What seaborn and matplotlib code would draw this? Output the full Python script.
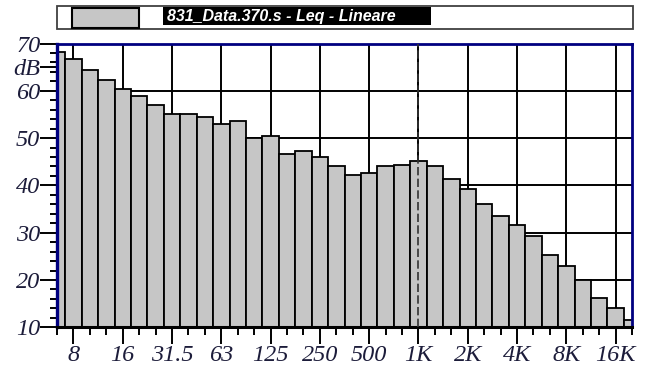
import pandas as pd
import seaborn as sns
import matplotlib.pyplot as plt
from matplotlib.patches import Rectangle

# 1/3 octave bands and measured Leq (dB, linear weighting)
bands = ["6.3", "8", "10", "12.5", "16", "20", "25", "31.5", "40", "50",
         "63", "80", "100", "125", "160", "200", "250", "315", "400", "500",
         "630", "800", "1K", "1.25K", "1.6K", "2K", "2.5K", "3.15K", "4K", "5K",
         "6.3K", "8K", "10K", "12.5K", "16K", "20K"]
leq = [68.3, 66.7, 64.5, 62.3, 60.4, 58.8, 57.1, 55.1, 55.1, 54.5,
       52.9, 53.6, 50.0, 50.4, 46.6, 47.3, 45.9, 44.0, 42.1, 42.6,
       44.1, 44.4, 45.2, 44.2, 41.3, 39.2, 36.1, 33.5, 31.6, 29.2,
       25.2, 23.0, 20.1, 16.3, 14.1, 11.5]
labelled = ["8", "16", "31.5", "63", "125", "250", "500", "1K", "2K", "4K", "8K", "16K"]
y_ticks = [10, 20, 30, 40, 50, 60, 70]
cursor_band = "1K"
title = "831_Data.370.s - Leq - Lineare"

df = pd.DataFrame({"band": bands, "leq": leq})

sns.set_style("white")
plt.rcParams["font.family"] = ["Liberation Serif", "DejaVu Serif"]

W, H = 648, 373
fig = plt.figure(figsize=(W / 100, H / 100), dpi=100)
ax = fig.add_axes([57 / W, 1 - 327.3 / H, (632 - 57) / W, (327.3 - 43.5) / H])

bar_grey = "#c6c6c6"
sns.barplot(data=df, x="band", y="leq", order=bands, color=bar_grey,
            saturation=1, width=1.0, edgecolor="black", linewidth=1.3,
            ax=ax, zorder=2)

# grid behind the bars
major_pos = [bands.index(b) for b in labelled]
for p in major_pos:
    ax.axvline(p, color="black", lw=1.4, zorder=0.5)
for v in y_ticks[1:-1]:
    ax.axhline(v, color="black", lw=1.4, zorder=0.5)

# cursor line at 1K
cx = bands.index(cursor_band)
ax.axvline(cx, color="#333333", lw=1.2, ls=(0, (5, 2)), zorder=3)

ax.set_xlim(0, len(bands) - 1)
ax.set_ylim(10, 70)
ax.set_xlabel("")
ax.set_ylabel("")

label_color = "#1c1c3a"
tick_font = dict(fontsize=17.5, style="italic", color=label_color)

ax.set_xticks(major_pos)
ax.set_xticklabels(labelled, **tick_font)
ax.set_xticks(range(len(bands)), minor=True)

yt = y_ticks + [65]
ax.set_yticks(yt)
ax.set_yticklabels([str(v) for v in y_ticks] + ["dB"], **tick_font)
ax.yaxis.get_major_ticks()[-1].tick1line.set_visible(False)
ax.set_yticks(range(10, 71, 2), minor=True)

ax.tick_params(axis="both", which="both", bottom=True, left=True,
               top=False, right=False)
ax.tick_params(axis="both", which="major", direction="out", length=12,
               width=1.4, color="black", pad=0)
ax.tick_params(axis="x", which="minor", direction="out", length=6,
               width=1.4, color="black")
ax.tick_params(axis="y", which="minor", direction="out", length=5,
               width=1.4, color="black")
ax.tick_params(axis="x", which="major", pad=1)

navy = "#000080"
for side in ["left", "top", "right"]:
    ax.spines[side].set_color(navy)
    ax.spines[side].set_linewidth(2.0)
ax.spines["bottom"].set_color("black")
ax.spines["bottom"].set_linewidth(2.2)
ax.spines["left"].set_linewidth(2.4)

# legend header
fig.patches.append(Rectangle((57 / W, 1 - 29 / H), (633 - 57) / W, 23 / H,
                             transform=fig.transFigure, facecolor="white",
                             edgecolor="#404040", lw=1.3))
fig.patches.append(Rectangle((72 / W, 1 - 27.5 / H), 67 / W, 19.5 / H,
                             transform=fig.transFigure, facecolor=bar_grey,
                             edgecolor="black", lw=1.5))
fig.patches.append(Rectangle((163 / W, 1 - 25 / H), (431 - 163) / W, 18 / H,
                             transform=fig.transFigure, facecolor="black",
                             edgecolor="none"))
fig.text(167 / W, 1 - 16.5 / H, title, color="white", fontsize=11.5,
         fontweight="bold", style="italic", va="center", ha="left",
         family=["Liberation Sans", "DejaVu Sans"])

fig.savefig("out.png", dpi=100)
